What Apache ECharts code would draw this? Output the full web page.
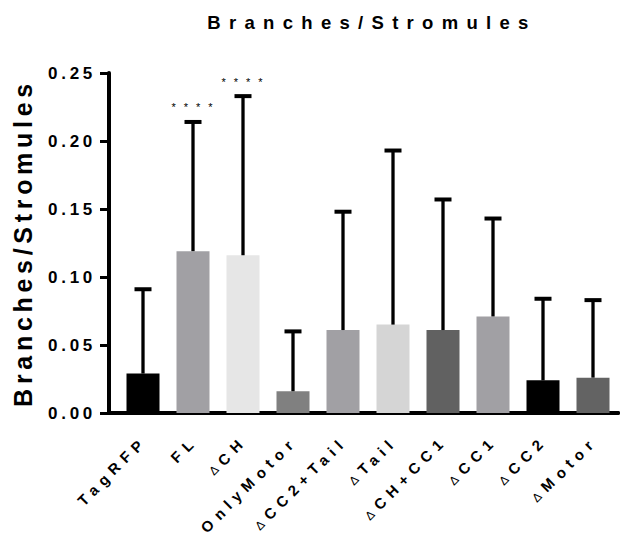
<!DOCTYPE html>
<html>
<head>
<meta charset="utf-8">
<script src="https://cdn.jsdelivr.net/npm/echarts@6/dist/echarts.min.js"></script>
<style>
  html, body { margin: 0; padding: 0; background: #fff; }
  #chart { width: 623px; height: 537px; }
  /* Category labels: bold face, but the delta sign comes from the regular face */
  @font-face { font-family: "CatLabel"; src: local("Liberation Sans Bold"), local("LiberationSans-Bold"); font-weight: 700; }
  @font-face { font-family: "CatLabel"; src: local("Liberation Sans"), local("LiberationSans"); font-weight: 700; unicode-range: U+0394, U+2206; size-adjust: 80%; }
  /* Widely tracked lettering, per text size */
  #chart text[style*="18.5px"] { letter-spacing: 8.3px; }
  #chart text[style*="25px"]   { letter-spacing: 4.7px; }
  #chart text[style*="17px"]   { letter-spacing: 3.7px; }
  #chart text[style*="15px"]   { letter-spacing: 6px; }
  #chart text[style*="11px"]   { letter-spacing: 8px; }
</style>
</head>
<body>
<div id="chart"></div>
<script>
  const categories = ['TagRFP', 'FL', 'ΔCH', 'OnlyMotor', 'ΔCC2+Tail', 'ΔTail', 'ΔCH+CC1', 'ΔCC1', 'ΔCC2', 'ΔMotor'];
  const means = [0.029, 0.119, 0.116, 0.016, 0.061, 0.065, 0.061, 0.071, 0.024, 0.026];
  const errors = [0.062, 0.095, 0.117, 0.044, 0.087, 0.128, 0.096, 0.072, 0.060, 0.057];
  const significance = ['', '****', '****', '', '', '', '', '', '', ''];
  const yMin = 0, yMax = 0.25, yStep = 0.05;

  const barColors = ['#000000', '#a1a0a4', '#e6e6e6', '#808080', '#a1a0a4', '#d5d5d5', '#616161', '#a1a0a4', '#000000', '#636363'];
  const FONT = 'Liberation Sans';

  const chart = echarts.init(document.getElementById('chart'), null, { renderer: 'svg' });

  // Upward SD whisker with cap from the bar top, and significance stars above it
  function renderErrorBar(params, api) {
    const idx = api.value(0);
    const mean = api.value(1);
    const sd = api.value(2);
    const base = api.coord([idx, mean]);
    const top = api.coord([idx, mean + sd]);
    const children = [
      { type: 'line', shape: { x1: base[0], y1: base[1], x2: top[0], y2: top[1] },
        style: { stroke: '#000', lineWidth: 3.3 } },
      { type: 'line', shape: { x1: top[0] - 8.5, y1: top[1], x2: top[0] + 8.5, y2: top[1] },
        style: { stroke: '#000', lineWidth: 4 } }
    ];
    const sig = significance[params.dataIndex];
    if (sig) {
      children.push({ type: 'text', x: top[0] + 3, y: top[1] - 14.5,
        style: { text: sig, fontSize: 11, fontFamily: FONT, fill: '#000', align: 'center', verticalAlign: 'middle' } });
    }
    return { type: 'group', children };
  }

  const option = {
    animation: false,
    title: {
      text: 'Branches/Stromules',
      left: 367, top: 8, textAlign: 'center',
      textStyle: { fontFamily: FONT, fontWeight: 'bold', fontSize: 18.5, color: '#000' }
    },
    grid: [
      { left: 118, right: 5, top: 73, bottom: 124 },
      { left: 109, right: 5, top: 73, bottom: 124 }
    ],
    xAxis: [
      {
        type: 'category', gridIndex: 0, data: categories,
        axisLine: { lineStyle: { color: '#000', width: 4 } },
        axisTick: { alignWithLabel: true, length: 9, lineStyle: { color: '#000', width: 3 } },
        axisLabel: {
          rotate: 45, interval: 0, margin: 27, padding: [0, -2, 0, 0],
          fontFamily: 'CatLabel', fontWeight: 'bold', fontSize: 15, color: '#000'
        }
      },
      {
        type: 'value', gridIndex: 1, min: 0, max: 1,
        axisLine: { show: true, onZero: false, lineStyle: { color: '#000', width: 4 } },
        axisTick: { show: false }, axisLabel: { show: false }, splitLine: { show: false }
      }
    ],
    yAxis: [
      {
        type: 'value', gridIndex: 0, min: yMin, max: yMax, interval: yStep, offset: 9,
        name: 'Branches/Stromules', nameLocation: 'middle', nameGap: 74,
        nameTextStyle: { fontFamily: FONT, fontWeight: 'bold', fontSize: 25, color: '#000' },
        axisLine: { show: true, lineStyle: { color: '#000', width: 4 } },
        axisTick: { show: true, length: 9, lineStyle: { color: '#000', width: 3 } },
        axisLabel: {
          margin: 13, formatter: v => v.toFixed(2),
          fontFamily: FONT, fontWeight: 'bold', fontSize: 17, color: '#000'
        },
        splitLine: { show: false }
      },
      { type: 'value', gridIndex: 1, min: 0, max: 1, show: false }
    ],
    series: [
      {
        type: 'bar', xAxisIndex: 0, yAxisIndex: 0, barWidth: 33,
        data: means.map((v, i) => ({ value: v, itemStyle: { color: barColors[i] } }))
      },
      {
        type: 'custom', xAxisIndex: 0, yAxisIndex: 0, z: 3,
        renderItem: renderErrorBar,
        data: means.map((m, i) => [i, m, errors[i]])
      }
    ]
  };

  chart.setOption(option);
  // Redraw once the label fonts have settled
  document.fonts.ready.then(() => setTimeout(() => chart.setOption(option, true), 300));
</script>
</body>
</html>
